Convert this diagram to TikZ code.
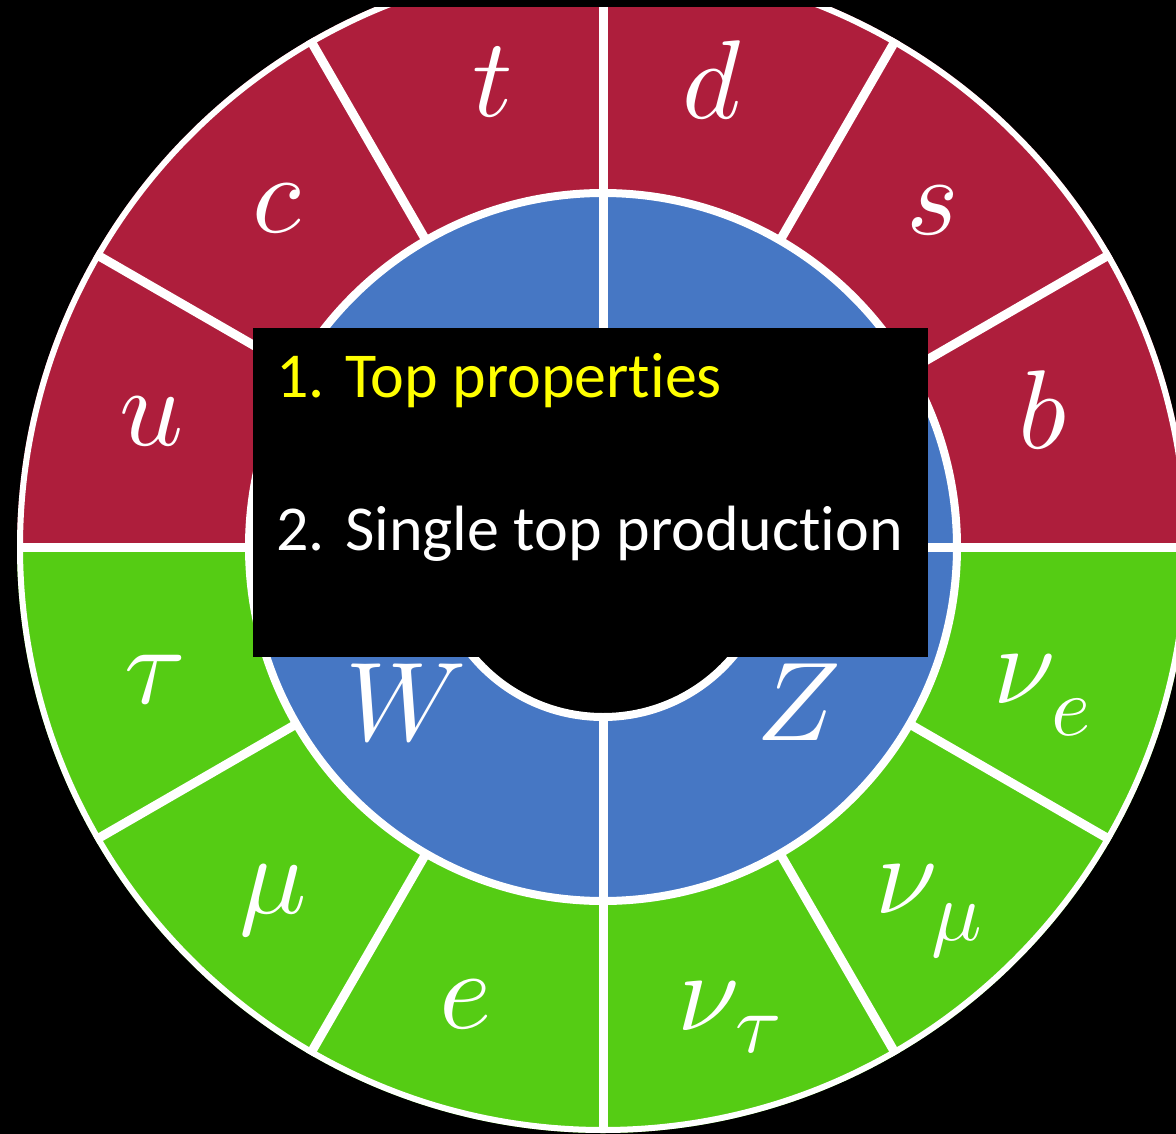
\documentclass[tikz,border=0pt]{standalone}
\usepackage{fontspec}
\newfontfamily\calib{Carlito}[Ligatures=NoCommon]
\definecolor{qred}{RGB}{174,30,60}
\definecolor{qblue}{RGB}{70,119,196}
\definecolor{qgreen}{RGB}{85,204,20}
\definecolor{qyellow}{RGB}{255,255,0}
\tikzset{
  lab/.style={text=white, inner sep=0pt, anchor=base, font=\fontsize{10}{12}\selectfont, scale=11.2},
  sublab/.style={text=white, inner sep=0pt, anchor=base, font=\fontsize{10}{12}\selectfont, scale=8.4},
  wline/.style={white, line width=9pt},
  item/.style={inner sep=0pt, anchor=base west, font=\calib\fontsize{64}{70}\selectfont}
}
\begin{document}
\begin{tikzpicture}[x=1pt,y=-1pt]
\fill[black] (0,0) rectangle (1176,1134);
\useasboundingbox (0,0) rectangle (1176,1134);
\coordinate (O) at (603,547);
\begin{scope}
\clip (0,8) rectangle (1176,1134);
\begin{scope}
\clip (0,0) rectangle (1176,547);
\fill[qred] (O) circle[radius=586];
\end{scope}
\begin{scope}
\clip (0,547) rectangle (1176,1134);
\fill[qgreen] (O) circle[radius=586];
\end{scope}
\fill[qblue] (O) circle[radius=354];
\fill[black] (O) circle[radius=170];
\draw[white, line width=6pt] (O) circle[radius=583];
\draw[white, line width=8pt] (O) circle[radius=354];
\draw[white, line width=8pt] (O) circle[radius=170];
\foreach \a in {30,60,120,150,210,240,300,330}
  \draw[wline] ([shift={(-\a:354)}]O) -- ([shift={(-\a:586)}]O);
\foreach \a in {0,90,180,270}
  \draw[wline] ([shift={(-\a:170)}]O) -- ([shift={(-\a:586)}]O);
\end{scope}
% quark labels
\node[lab] (lu) at (152,445) {$u$};
\node[lab] (lc) at (277,233) {$c$};
\node[lab] (lt) at (493,117) {$t$};
\node[lab] (ld) at (712,119) {$d$};
\node[lab] (ls) at (933,235) {$s$};
\node[lab] (lb) at (1043,448) {$b$};
% lepton labels
\node[lab] (ltau) at (155,703) {$\tau$};
\node[lab] (lmu) at (273,913) {$\mu$};
\node[lab] (le) at (466,1028) {$e$};
\node[lab] (lnut) at (709,1030) {$\nu$};
\node[sublab] (lnuts) at (759,1052) {$\tau$};
\node[lab] (lnum) at (907,913) {$\nu$};
\node[sublab] (lnums) at (957,940) {$\mu$};
\node[lab] (lnue) at (1025,703) {$\nu$};
\node[sublab] (lnues) at (1071,735) {$e$};
% boson labels
\node[lab] (lW) at (406,740) {$W$};
\node[lab] (lZ) at (799,740) {$Z$};
% text box
\fill[black] (253,328) rectangle (928,657);
\node[item, text=qyellow] (n1) at (276,397) {1.};
\node[item, text=qyellow] (t1) at (345,397) {Top properties};
\node[item, text=white] (n2) at (276,550) {2.};
\node[item, text=white] (t2) at (345,550) {Single top production};
\end{tikzpicture}
\end{document}
